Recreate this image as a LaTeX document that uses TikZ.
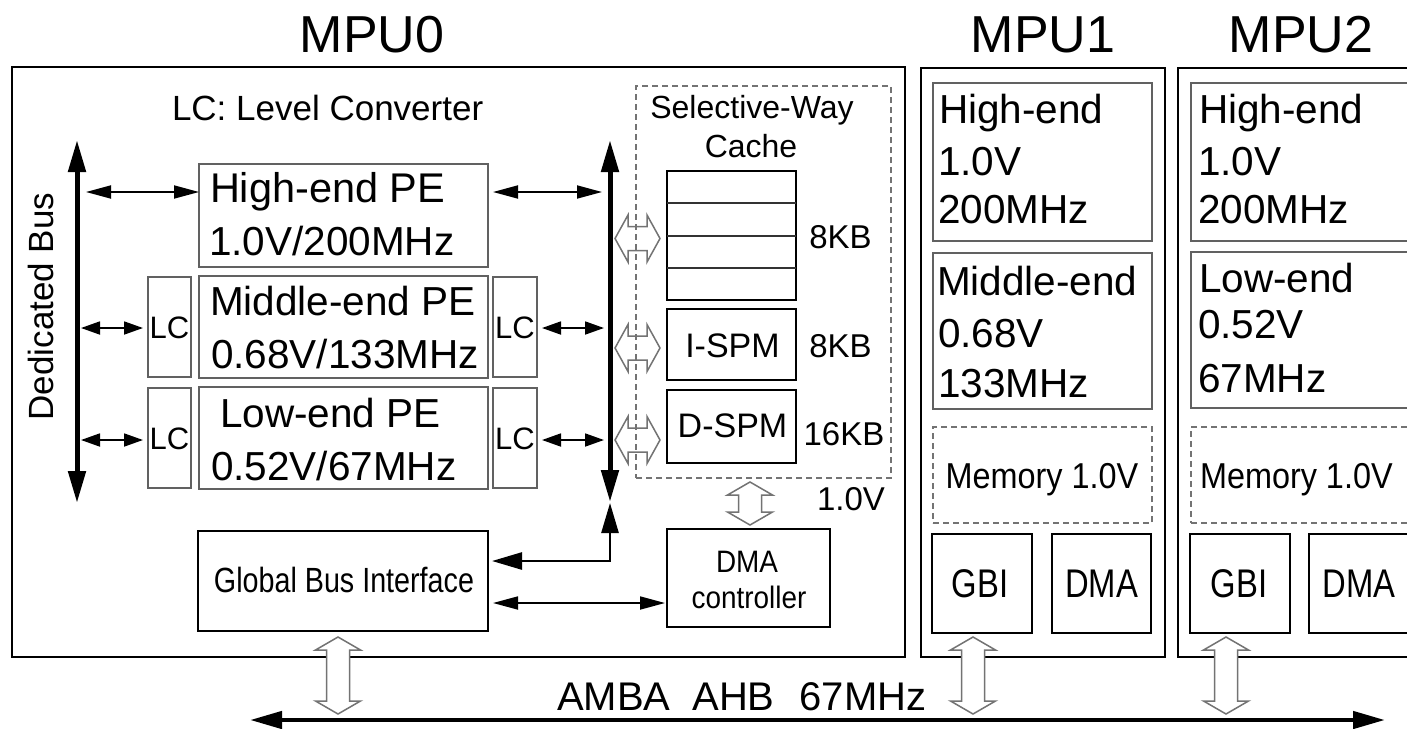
\documentclass[tikz,border=0pt]{standalone}
\usepackage{fontspec}
\setmainfont{Liberation Sans}
\newfontfamily\narrowA[FakeStretch=0.82]{Liberation Sans}
\newfontfamily\narrowB[FakeStretch=0.9]{Liberation Sans}
\usetikzlibrary{arrows.meta,calc}
\newcommand\fs[1]{\fontsize{#1}{#1}\selectfont}
\newcommand\hollowh[2]{\draw[hollow] ({#1-22.5},#2) -- ({#1-9.5},{#2-23.5}) -- ({#1-9.5},{#2-12}) -- ({#1+9.5},{#2-12}) -- ({#1+9.5},{#2-23.5}) -- ({#1+22.5},#2) -- ({#1+9.5},{#2+23.5}) -- ({#1+9.5},{#2+12}) -- ({#1-9.5},{#2+12}) -- ({#1-9.5},{#2+23.5}) -- cycle;}
\newcommand\hollowv[4]{\draw[hollow,fill=#4] (#1,#2) -- ({#1+22.5},{#2+13}) -- ({#1+11.5},{#2+13}) -- ({#1+11.5},{#3-13}) -- ({#1+22.5},{#3-13}) -- (#1,#3) -- ({#1-22.5},{#3-13}) -- ({#1-11.5},{#3-13}) -- ({#1-11.5},{#2+13}) -- ({#1-22.5},{#2+13}) -- cycle;}
\begin{document}
\begin{tikzpicture}[x=1pt,y=-1pt,
  bx/.style={rectangle, inner sep=0pt, outer sep=0pt, anchor=north west},
  mframe/.style={bx, draw=black, line width=2.6pt},
  gbox/.style={bx, draw=black!62, line width=1.7pt},
  bbox/.style={bx, draw=black, line width=2.4pt},
  dbox/.style={bx, draw=black!55, line width=1.6pt, dash pattern=on 6pt off 4pt},
  txt/.style={inner sep=0pt, outer sep=0pt, anchor=base},
  ltxt/.style={txt, anchor=base west},
  hollow/.style={draw=black!55, line width=1.5pt, line join=miter},
  busarr/.style={line width=5pt, {Triangle[length=32pt,width=17pt]}-{Triangle[length=32pt,width=17pt]}},
  medarr/.style={line width=2.6pt, {Triangle[length=30pt,width=17pt]}-{Triangle[length=30pt,width=17pt]}},
  thinarr/.style={line width=1.8pt, {Triangle[length=25pt,width=13pt]}-{Triangle[length=25pt,width=13pt]}},
  lcarr/.style={line width=1.8pt, {Triangle[length=19pt,width=13pt]}-{Triangle[length=19pt,width=13pt]}},
]
\clip (0,0) rectangle (1407,728);
\fill[white] (0,0) rectangle (1407,728);

% titles
\node[txt, font=\fs{52}] (t0) at (372,52) {MPU0};
\node[txt, font=\fs{52}] (t1) at (1043,52) {MPU1};
\node[txt, font=\fs{52}] (t2) at (1301,52) {MPU2};

% frames
\node[mframe, minimum width=893, minimum height=590] (mpu0) at (12,67) {};
\node[mframe, minimum width=244, minimum height=589] (mpu1) at (921,68) {};
\node[mframe, minimum width=260, minimum height=589] (mpu2) at (1178,68) {};

% MPU0 contents
\node[ltxt, font=\fs{35}] (lcl) at (172,120) {LC: Level Converter};
\node[txt, rotate=90, font=\fs{35}] (dbl) at (53,306.5) {Dedicated Bus};

\node[gbox, minimum width=289, minimum height=103] (hpe) at (199,164) {};
\node[gbox, minimum width=289, minimum height=102] (mpe) at (199,276) {};
\node[gbox, minimum width=289, minimum height=102] (lpe) at (199,387) {};
\node[ltxt, font=\fs{41.5}] (hpe1) at (210,202) {High-end PE};
\node[ltxt, font=\fs{40.5}] (hpe2) at (209,255) {1.0V/200MHz};
\node[ltxt, font=\fs{40.5}] (mpe1) at (210,315) {Middle-end PE};
\node[ltxt, font=\fs{40.5}] (mpe2) at (211,368) {0.68V/133MHz};
\node[ltxt, font=\fs{40.5}] (lpe1) at (220,427) {Low-end PE};
\node[ltxt, font=\fs{40.5}] (lpe2) at (211,480) {0.52V/67MHz};

\node[gbox, minimum width=43, minimum height=100] (lcml) at (148,277) {};
\node[gbox, minimum width=43, minimum height=100] (lcll) at (148,388) {};
\node[gbox, minimum width=44, minimum height=100] (lcmr) at (493,277) {};
\node[gbox, minimum width=44, minimum height=100] (lclr) at (493,388) {};
\foreach \n in {lcml,lcll,lcmr,lclr}{
  \node[txt, font=\fs{31}] (\n t) at ([yshift=-11pt]\n.center) {LC};
}

% buses
\coordinate (dbT) at (77,140);
\coordinate (dbB) at (77,503);
\draw[busarr] (dbT) -- (dbB);
\coordinate (rbT) at (610,140);
\coordinate (rbB) at (610,502);
\draw[busarr] (rbT) -- (rbB);

\draw[thinarr] (86,192) -- (hpe.west |- 0,192);
\draw[thinarr] ([xshift=5pt]hpe.east |- 0,192) -- (602,192);
\draw[lcarr] (81,328) -- ([xshift=-5pt]lcml.west |- 0,328);
\draw[lcarr] (81,440) -- ([xshift=-5pt]lcll.west |- 0,440);
\draw[lcarr] ([xshift=5pt]lcmr.east |- 0,328) -- (604,328);
\draw[lcarr] ([xshift=5pt]lclr.east |- 0,440) -- (604,440);

% cache
\node[dbox, minimum width=255, minimum height=392] (swc) at (636,86) {};
\node[txt, font=\fs{32}] (swc1) at (752,118) {Selective-Way};
\node[txt, font=\fs{32}] (swc2) at (751,157) {Cache};
\node[bbox, minimum width=129, minimum height=129] (cache) at (667,171) {};
\draw[black!80, line width=1.5pt] (cache.west |- 0,203) -- (cache.east |- 0,203);
\draw[black!80, line width=1.5pt] (cache.west |- 0,236) -- (cache.east |- 0,236);
\draw[black!80, line width=1.5pt] (cache.west |- 0,268) -- (cache.east |- 0,268);
\node[txt, font=\fs{33}] (k1) at (840.5,248) {8KB};
\node[bbox, minimum width=129, minimum height=71] (ispm) at (667,309) {};
\node[txt, font=\fs{34}] (ispmt) at (732.5,357) {I-SPM};
\node[txt, font=\fs{33}] (k2) at (840.5,357) {8KB};
\node[bbox, minimum width=129, minimum height=73] (dspm) at (667,390) {};
\node[txt, font=\fs{34}] (dspmt) at (732.5,437) {D-SPM};
\node[txt, font=\fs{33}] (k3) at (844,445) {16KB};
\node[txt, font=\fs{33}] (v1) at (851,510) {1.0V};

\hollowh{637.5}{238.5}
\hollowh{637.5}{348}
\hollowh{637.5}{440}
\hollowv{750}{482}{525}{white}

% GBI / DMA
\node[bbox, minimum width=290, minimum height=100] (gbi0) at (198,531) {};
\node[txt, font=\narrowA\fs{35}] (gbi0t) at (344,592) {Global Bus Interface};
\node[bbox, minimum width=163, minimum height=98] (dma0) at (667,529) {};
\node[txt, font=\narrowB\fs{31}] (dma0a) at (747,572) {DMA};
\node[txt, font=\narrowB\fs{31}] (dma0b) at (749,608) {controller};
\coordinate (corner) at (610,561);
\draw[medarr] ([xshift=4pt]gbi0.east |- corner) -- (corner) -- ([yshift=-1pt]rbB);
\draw[thinarr] ([xshift=5pt]gbi0.east |- 0,603) -- ([xshift=-2pt]dma0.west |- 0,603);

% MPU1
\node[gbox, minimum width=219, minimum height=158] (m1h) at (933,83) {};
\node[ltxt, font=\fs{40.5}] (m1h1) at (939,123) {High-end};
\node[ltxt, font=\fs{40.5}] (m1h2) at (938,175) {1.0V};
\node[ltxt, font=\fs{40.5}] (m1h3) at (938,223) {200MHz};
\node[gbox, minimum width=219, minimum height=156] (m1m) at (933,253) {};
\node[ltxt, font=\fs{40.5}] (m1m1) at (937,295) {Middle-end};
\node[ltxt, font=\fs{40.5}] (m1m2) at (938,347) {0.68V};
\node[ltxt, font=\fs{40.5}] (m1m3) at (938,397) {133MHz};
\node[dbox, minimum width=219, minimum height=96] (m1mem) at (933,427) {};
\node[txt, font=\narrowB\fs{36}] (m1memt) at (1042,488) {Memory 1.0V};
\node[bbox, minimum width=100, minimum height=99] (m1g) at (932,534) {};
\node[txt, font=\narrowA\fs{40}] (m1gt) at (980,597) {GBI};
\node[bbox, minimum width=99, minimum height=99] (m1d) at (1052,534) {};
\node[txt, font=\narrowA\fs{40}] (m1dt) at (1101.5,597) {DMA};

% MPU2
\node[gbox, minimum width=240, minimum height=158] (m2h) at (1191,83) {};
\node[ltxt, font=\fs{40.5}] (m2h1) at (1199,123) {High-end};
\node[ltxt, font=\fs{40.5}] (m2h2) at (1198,175) {1.0V};
\node[ltxt, font=\fs{40.5}] (m2h3) at (1198,223) {200MHz};
\node[gbox, minimum width=240, minimum height=156] (m2l) at (1191,252) {};
\node[ltxt, font=\fs{40.5}] (m2l1) at (1199,292) {Low-end};
\node[ltxt, font=\fs{40.5}] (m2l2) at (1198,338) {0.52V};
\node[ltxt, font=\fs{40.5}] (m2l3) at (1198,392) {67MHz};
\node[dbox, minimum width=240, minimum height=96] (m2mem) at (1191,427) {};
\node[ltxt, font=\narrowB\fs{36}] (m2memt) at (1200,488) {Memory 1.0V};
\node[bbox, minimum width=100, minimum height=99] (m2g) at (1190,534) {};
\node[txt, font=\narrowA\fs{40}] (m2gt) at (1239,597) {GBI};
\node[bbox, minimum width=100, minimum height=99] (m2d) at (1309,534) {};
\node[txt, font=\narrowA\fs{40}] (m2dt) at (1359,597) {DMA};

% AMBA bus
\coordinate (abL) at (250,720);
\coordinate (abR) at (1385,720);
\draw[busarr, line width=4.5pt] (abL) -- (abR);
\node[ltxt, font=\fs{40}] (amba) at (557,710) {AMBA\hspace{22pt}AHB\hspace{25pt}67MHz};
\hollowv{338}{637}{714}{white}
\hollowv{973}{637}{714}{white}
\hollowv{1226}{637}{714}{white}
\end{tikzpicture}
\end{document}
